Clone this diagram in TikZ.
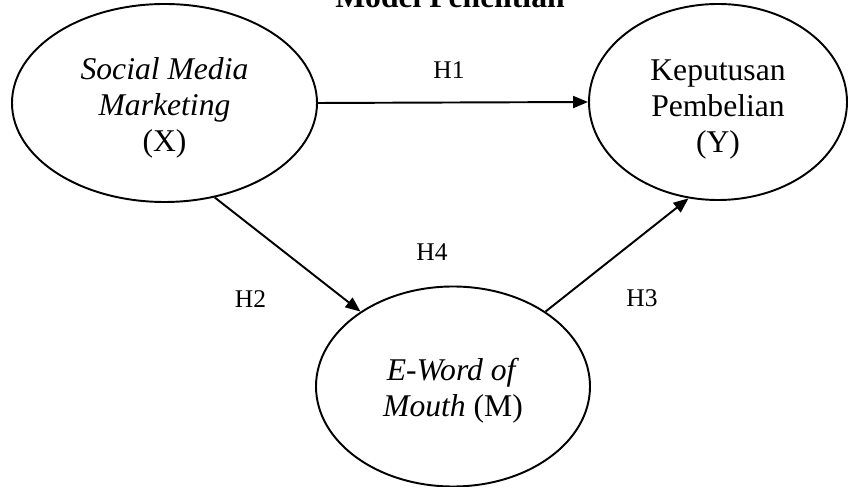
\documentclass[tikz,border=0pt]{standalone}
\usepackage{fontspec}
\setmainfont{Liberation Serif}
\usetikzlibrary{shapes,arrows.meta,positioning}

\begin{document}
\begin{tikzpicture}[>={Triangle[length=3mm,width=2.4mm]},
  var/.style={draw,ellipse,line width=1.1pt,inner sep=0pt,align=center,
    font=\fontsize{18}{20.5}\selectfont},
  hyp/.style={font=\fontsize{14.5}{16}\selectfont},
  path/.style={->,line width=1.1pt}]
\useasboundingbox (0,0) rectangle (16.98,-9.74);
\node[font=\bfseries\fontsize{18}{20}\selectfont,anchor=base] (title) at (9.0,-0.15) {Model Penelitian};
% variables
\node[var,minimum width=6.1cm,minimum height=3.96cm] (X) at (3.29,-2.06) {
\rule{0pt}{18pt}\textit{Social Media}\\ \textit{Marketing}\\ (X)
};
\node[var,minimum width=5.16cm,minimum height=3.92cm] (Y) at (14.36,-2.04) {
\rule{0pt}{20pt}Keputusan\\ Pembelian\\ (Y)
};
\node[var,minimum width=5.48cm,minimum height=4.0cm] (M) at (9.06,-7.73) {
\rule{0pt}{17pt}\textit{E-Word of}\\ \textit{Mouth} (M)
};
% hipotesis
\draw[path] (X.east) -- (Y.west);
\draw[path] (X.-62) -- (M.141);
\draw[path] (M.39) -- (Y.-107);
\node[hyp] (h1) at (8.98,-1.41) {H1};
\node[hyp] (h2) at (5.01,-5.99) {H2};
\node[hyp] (h3) at (12.84,-5.96) {H3};
\node[hyp] (h4) at (8.64,-5.04) {H4};
\end{tikzpicture}
\end{document}
